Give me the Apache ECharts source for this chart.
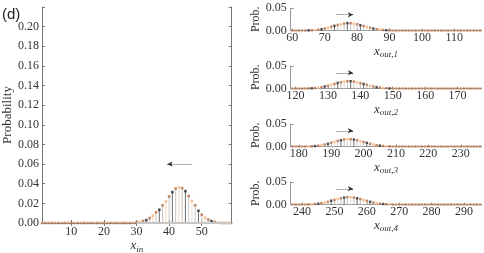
<!DOCTYPE html>
<html>
<head>
<meta charset="utf-8">
<script src="https://cdn.jsdelivr.net/npm/echarts@6/dist/echarts.min.js"></script>
<style>html,body{margin:0;padding:0;background:#fff}#c{width:484px;height:253px}</style>
</head>
<body>
<div id="c"></div>
<script>
// ---------- data ----------
const xIn = [1,2,3,4,5,6,7,8,9,10,11,12,13,14,15,16,17,18,19,20,21,22,23,24,25,26,27,28,29,30,31,32,33,34,35,36,37,38,39,40,41,42,43,44,45,46,47,48,49,50,51,52,53,54,55,56,57,58,59];
const pIn = [0,0,0,0,0,0,0,0,0,0,0,0,0,0,0,0,0,0,0,0,0,0,0,0,0,0,0,0,0,
  0.0006,0.0012,0.002,0.003,0.005,0.0075,0.011,0.0135,0.018,0.022,0.027,0.0315,0.035,0.0365,0.0355,0.0325,0.0275,0.0225,0.018,0.0125,0.0085,0.0055,0.0035,0.002,0.001,0.0005,
  0,0,0,0];
const inTicks = [10,20,30,40,50];
const inArrow = [47, 39.5, 0.06];      // from x, to x, at y
const inBand = [30, 59];

const xOut1 = [60,61,62,63,64,65,66,67,68,69,70,71,72,73,74,75,76,77,78,79,80,81,82,83,84,85,86,87,88,89,90,91,92,93,94,95,96,97,98,99,100,101,102,103,104,105,106,107,108,109,110,111,112,113,114,115,116,117,118];
const xOut2 = [119,120,121,122,123,124,125,126,127,128,129,130,131,132,133,134,135,136,137,138,139,140,141,142,143,144,145,146,147,148,149,150,151,152,153,154,155,156,157,158,159,160,161,162,163,164,165,166,167,168,169,170,171,172,173,174,175,176,177];
const xOut3 = [178,179,180,181,182,183,184,185,186,187,188,189,190,191,192,193,194,195,196,197,198,199,200,201,202,203,204,205,206,207,208,209,210,211,212,213,214,215,216,217,218,219,220,221,222,223,224,225,226,227,228,229,230,231,232,233,234,235,236];
const xOut4 = [237,238,239,240,241,242,243,244,245,246,247,248,249,250,251,252,253,254,255,256,257,258,259,260,261,262,263,264,265,266,267,268,269,270,271,272,273,274,275,276,277,278,279,280,281,282,283,284,285,286,287,288,289,290,291,292,293,294,295];
const pOut1 = [0,0,0,0,0,0.0003,0.0006,0.001,0.0018,0.003,0.0045,0.0062,0.0085,0.0105,0.0125,0.014,0.0155,0.0165,0.0163,0.0155,0.014,0.012,0.0102,0.0082,0.0062,0.0045,0.003,0.002,0.0012,0.0007,0.0003,0,0,0,0,0,0,0,0,0,0,0,0,0,0,0,0,0,0,0,0,0,0,0,0,0,0,0,0];
const pOut2 = [0,0,0,0,0,0.0003,0.0006,0.001,0.0018,0.003,0.0045,0.0062,0.0085,0.0105,0.0125,0.014,0.0155,0.0165,0.0163,0.0155,0.014,0.012,0.0102,0.0082,0.0062,0.0045,0.003,0.002,0.0012,0.0007,0.0003,0,0,0,0,0,0,0,0,0,0,0,0,0,0,0,0,0,0,0,0,0,0,0,0,0,0,0,0];
const pOut3 = [0,0,0,0,0,0.0003,0.0006,0.001,0.0018,0.003,0.0045,0.0062,0.0085,0.0105,0.0125,0.014,0.0155,0.0165,0.0163,0.0155,0.014,0.012,0.0102,0.0082,0.0062,0.0045,0.003,0.002,0.0012,0.0007,0.0003,0,0,0,0,0,0,0,0,0,0,0,0,0,0,0,0,0,0,0,0,0,0,0,0,0,0,0,0];
const pOut4 = [0,0,0,0,0,0.0003,0.0006,0.001,0.0018,0.003,0.0045,0.0062,0.0085,0.0105,0.0125,0.014,0.0155,0.0165,0.0163,0.0155,0.014,0.012,0.0102,0.0082,0.0062,0.0045,0.003,0.002,0.0012,0.0007,0.0003,0,0,0,0,0,0,0,0,0,0,0,0,0,0,0,0,0,0,0,0,0,0,0,0,0,0,0,0];
const outTicks1 = [60,70,80,90,100,110];
const outTicks2 = [120,130,140,150,160,170];
const outTicks3 = [180,190,200,210,220,230];
const outTicks4 = [240,250,260,270,280,290];
const outRange1 = [59.5,118.4];
const outRange2 = [118.5,177.4];
const outRange3 = [177.5,236.4];
const outRange4 = [236.5,295.4];
const outArrow1 = [73.5,78.7,0.035];
const outArrow2 = [132.5,137.7,0.035];
const outArrow3 = [191.5,196.7,0.035];
const outArrow4 = [250.5,255.7,0.035];
const outNames = ['out,1','out,2','out,3','out,4'];

// ---------- style helpers ----------
const SERIF = '"Liberation Serif", "Times New Roman", Times, serif';
const AX = '#777';
function tone(x){ const m = ((x % 4)+4)%4; return m===1?'k':(m===3?'l':'b'); }
const dotCol = {k:'#2b2b2b', l:'#f6b07a', b:'#b8693e'};
const stemCol = {k:'#6a6a6a', l:'#f2d9c2', b:'#c4c4c4'};

const grids = [], xAxes = [], yAxes = [], series = [];

function arrowLine(a, xi, yi){
  const headFrom = a[1] + (a[0]-a[1])*0.18;
  return [
    {type:'line', xAxisIndex:xi, yAxisIndex:yi, data:[], silent:true,
      markLine:{silent:true, symbol:['none','none'], animation:false,
        label:{show:false}, lineStyle:{color:'#b0b0b0', width:1, type:'solid'},
        emphasis:{disabled:true},
        data:[[{coord:[a[0],a[2]]},{coord:[a[1],a[2]]}]]}},
    {type:'line', xAxisIndex:xi, yAxisIndex:yi, data:[], silent:true,
      markLine:{silent:true, symbol:['none','arrow'], symbolSize:[4,5], animation:false,
        label:{show:false}, lineStyle:{color:'#333', width:1, type:'solid'},
        emphasis:{disabled:true},
        data:[[{coord:[headFrom,a[2]]},{coord:[a[1],a[2]]}]]}}
  ];
}
function stems(xs, ps, xi, yi){
  return {type:'bar', xAxisIndex:xi, yAxisIndex:yi, barWidth:1, silent:true, animation:false,
    data: xs.map((x,i)=>({value:[x,ps[i]], itemStyle:{color:stemCol[tone(x)]}}))};
}
function dots(xs, ps, xi, yi, size){
  return {type:'scatter', xAxisIndex:xi, yAxisIndex:yi, symbol:'rect', symbolSize:size, silent:true, animation:false,
    data: xs.map((x,i)=>({value:[x,ps[i]], itemStyle:{color: ps[i]===0 ? (x%2? '#c98a5e':'#b77a52') : dotCol[tone(x)]}}))};
}
function xname(sub){ return '{i|x}{s|'+sub+'}'; }
const nameRich = {i:{fontFamily:SERIF, fontStyle:'italic', fontSize:13, color:'#333'},
                  s:{fontFamily:SERIF, fontStyle:'italic', fontSize:9, color:'#333', padding:[7,0,0,0]}};

// ---------- left panel ----------
grids.push({left:42, top:7, width:189.7, height:216, outerBoundsMode:'none', containLabel:false});
xAxes.push({type:'value', gridIndex:0, min:1, max:59.2, position:'bottom',
  name: xname('in'), nameLocation:'middle', nameGap:15, nameMoveOverlap:false, nameTextStyle:{rich:nameRich},
  axisLine:{show:true, lineStyle:{color:AX, width:1}},
  axisTick:{show:true, inside:true, length:3, customValues:inTicks, lineStyle:{color:AX}},
  axisLabel:{show:true, customValues:inTicks, margin:3, fontFamily:SERIF, fontSize:12, color:'#333'},
  splitLine:{show:false}});
xAxes.push({type:'value', gridIndex:0, min:1, max:59.2, position:'top',
  axisLine:{show:true, lineStyle:{color:AX, width:1}},
  axisTick:{show:true, inside:true, length:3, customValues:inTicks, lineStyle:{color:AX}},
  axisLabel:{show:false}, splitLine:{show:false}});
yAxes.push({type:'value', gridIndex:0, min:0, max:0.22, interval:0.02, position:'left',
  name:'Probability', nameLocation:'middle', nameGap:26, nameRotate:90,
  nameTextStyle:{fontFamily:SERIF, fontSize:13, color:'#333'},
  axisLine:{show:true, lineStyle:{color:AX, width:1}},
  axisTick:{show:true, inside:true, length:3, lineStyle:{color:AX}},
  axisLabel:{margin:3, fontFamily:SERIF, fontSize:12, color:'#333', formatter:v=> v>0.21 ? '' : v.toFixed(2)},
  splitLine:{show:false}});
yAxes.push({type:'value', gridIndex:0, min:0, max:0.22, interval:0.02, position:'right',
  axisLine:{show:true, lineStyle:{color:AX, width:1}},
  axisTick:{show:true, inside:true, length:3, lineStyle:{color:AX}},
  axisLabel:{show:false}, splitLine:{show:false}});
series.push({type:'line', xAxisIndex:0, yAxisIndex:0, silent:true, symbol:'none', animation:false,
  lineStyle:{color:'#c6c6c6', width:2}, data:[[inBand[0],0],[inBand[1],0]]});
series.push(stems(xIn, pIn, 0, 0));
series.push(dots(xIn, pIn, 0, 0, 2.6));
series.push(...arrowLine(inArrow, 0, 0));

// ---------- right panels ----------
const outX = [xOut1,xOut2,xOut3,xOut4];
const outP = [pOut1,pOut2,pOut3,pOut4];
const outT = [outTicks1,outTicks2,outTicks3,outTicks4];
const outR = [outRange1,outRange2,outRange3,outRange4];
const outA = [outArrow1,outArrow2,outArrow3,outArrow4];
const tops = [8, 66, 124, 182];
for (let k=0;k<4;k++){
  const gi = k+1, xi = xAxes.length, yi = yAxes.length;
  grids.push({left:290.7, top:tops[k], width:190.8, height:22.5, outerBoundsMode:'none', containLabel:false});
  xAxes.push({type:'value', gridIndex:gi, min:outR[k][0], max:outR[k][1], position:'bottom',
    name: xname(outNames[k]), nameLocation:'middle', nameGap:13, nameMoveOverlap:false, nameTextStyle:{rich:nameRich},
    axisLine:{show:true, lineStyle:{color:'#999', width:1}},
    axisTick:{show:true, inside:true, length:2, customValues:outT[k], lineStyle:{color:'#999'}},
    axisLabel:{show:true, customValues:outT[k], margin:1, fontFamily:SERIF, fontSize:12, color:'#333'},
    splitLine:{show:false}});
  yAxes.push({type:'value', gridIndex:gi, min:0, max:0.05, interval:0.05, position:'left',
    name:'Prob.', nameLocation:'middle', nameGap:27, nameRotate:90,
    nameTextStyle:{fontFamily:SERIF, fontSize:12, color:'#333'},
    axisLine:{show:true, lineStyle:{color:'#999', width:1}},
    axisTick:{show:true, inside:true, length:3, lineStyle:{color:'#999'}},
    axisLabel:{margin:4, fontFamily:SERIF, fontSize:12, color:'#333', formatter:v=>v.toFixed(2)},
    splitLine:{show:false}});
  series.push(stems(outX[k], outP[k], xi, yi));
  series.push(dots(outX[k], outP[k], xi, yi, 2.4));
  series.push(...arrowLine(outA[k], xi, yi));
}

const chart = echarts.init(document.getElementById('c'), null, {renderer:'canvas'});
chart.setOption({
  animation:false,
  backgroundColor:'#fff',
  grid: grids, xAxis: xAxes, yAxis: yAxes, series: series,
  graphic:[{type:'text', left:2, top:7, style:{text:'(d)', font:'15px "Liberation Sans"', fill:'#222'}}]
});
</script>
</body>
</html>
